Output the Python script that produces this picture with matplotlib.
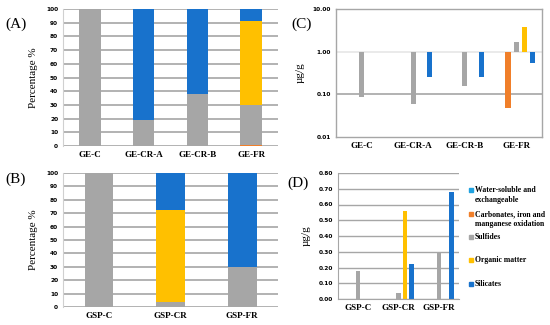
import numpy as np
import matplotlib.pyplot as plt

plt.rcParams['font.family'] = ['Liberation Serif', 'DejaVu Serif']

# fractions (legend order)
fractions = ['Water-soluble and\nexchangeable', 'Carbonates, iron and\nmanganese oxidation',
             'Sulfides', 'Organic matter', 'Silicates']
colors = ['#1FA2E0', '#F07F2A', '#A6A6A6', '#FFC000', '#1872CC']

# (A) percentages, GE samples
ge_samples = ['GE-C', 'GE-CR-A', 'GE-CR-B', 'GE-FR']
ge_pct_water = [0, 0, 0, 0]
ge_pct_carb = [0, 0, 0, 1]
ge_pct_sulf = [100, 19, 38, 29]
ge_pct_org = [0, 0, 0, 61]
ge_pct_sil = [0, 81, 62, 9]

# (B) percentages, GSP samples
gsp_samples = ['GSP-C', 'GSP-CR', 'GSP-FR']
gsp_pct_water = [0, 0, 0]
gsp_pct_carb = [0, 0, 0]
gsp_pct_sulf = [100, 4, 30]
gsp_pct_org = [0, 68.5, 0]
gsp_pct_sil = [0, 27.5, 70]

# (C) concentrations ug/g, log scale (nan = not shown)
nan = np.nan
ge_conc_water = [nan, nan, nan, nan]
ge_conc_carb = [nan, nan, nan, 0.048]
ge_conc_sulf = [0.088, 0.058, 0.16, 1.7]
ge_conc_org = [nan, nan, nan, 3.7]
ge_conc_sil = [nan, 0.25, 0.26, 0.55]

# (D) concentrations ug/g
gsp_conc_water = [0, 0, 0]
gsp_conc_carb = [0, 0, 0]
gsp_conc_sulf = [0.18, 0.035, 0.29]
gsp_conc_org = [0, 0.56, 0]
gsp_conc_sil = [0, 0.22, 0.68]

GRID = '#A6A6A6'
tick_font = dict(family='DejaVu Sans', fontsize=4.2, fontweight='bold')
cat_font = dict(fontsize=6.5, fontweight='bold')


def style_axes(ax):
    for s in ['top', 'right', 'bottom']:
        ax.spines[s].set_visible(False)
    ax.spines['left'].set_color('#D0D0D0')
    ax.spines['left'].set_linewidth(0.8)
    ax.tick_params(axis='both', length=0)
    ax.set_axisbelow(True)


def stacked(ax, samples, parts):
    x = np.arange(len(samples))
    bottom = np.zeros(len(samples))
    for vals, c in zip(parts, colors):
        vals = np.array(vals, dtype=float)
        ax.bar(x, vals, 0.4, bottom=bottom, color=c)
        bottom += vals
    ax.set_xlim(-0.5, len(samples) - 0.5)
    ax.set_ylim(0, 100)
    ax.set_yticks(range(0, 101, 10))
    ax.yaxis.grid(True, color=GRID, linewidth=1.2)
    style_axes(ax)
    ax.set_xticks(x)
    ax.set_xticklabels(samples, **cat_font)
    for t in ax.get_yticklabels():
        t.set(**tick_font)
    ax.set_ylabel('Percentage %', fontsize=8, labelpad=6)


def grouped(ax, samples, parts, width, bottom_val=0):
    x = np.arange(len(samples))
    for i, (vals, c) in enumerate(zip(parts, colors)):
        vals = np.array(vals, dtype=float)
        pos = x + (i - 2) * 0.16
        ax.bar(pos, vals - bottom_val, width, bottom=bottom_val, color=c)
    ax.set_xlim(-0.5, len(samples) - 0.5)
    ax.set_xticks(x)
    ax.set_xticklabels(samples, **cat_font)


def panel_label(txt, x, y):
    fig.text(x / 550, 1 - y / 325, txt, fontsize=11, ha='left', va='center')


fig = plt.figure(figsize=(5.5, 3.25), dpi=100)

# (A)
axA = fig.add_axes([63 / 550, 1 - 146 / 325, 215 / 550, 137 / 325])
stacked(axA, ge_samples, [ge_pct_water, ge_pct_carb, ge_pct_sulf, ge_pct_org, ge_pct_sil])
panel_label('(A)', 5, 24)

# (B)
axB = fig.add_axes([63 / 550, 1 - 307 / 325, 215 / 550, 134 / 325])
stacked(axB, gsp_samples, [gsp_pct_water, gsp_pct_carb, gsp_pct_sulf, gsp_pct_org, gsp_pct_sil])
panel_label('(B)', 5, 179)

# (C)
axC = fig.add_axes([336 / 550, 1 - 137 / 325, 206 / 550, 128 / 325])
grouped(axC, ge_samples, [ge_conc_water, ge_conc_carb, ge_conc_sulf, ge_conc_org, ge_conc_sil], 0.1, 1.0)
axC.set_yscale('log')
axC.set_ylim(0.01, 10)
axC.set_yticks([0.01, 0.1, 1, 10])
axC.set_yticklabels(['0.01', '0.10', '1.00', '10.00'])
axC.minorticks_off()
axC.tick_params(axis='both', length=0)
for s in axC.spines.values():
    s.set_color(GRID)
    s.set_linewidth(1.0)
axC.axhline(0.1, color=GRID, linewidth=1.2, zorder=0)
axC.axhline(1.0, color='#E6E6E6', linewidth=1.2, zorder=0)
for t in axC.get_yticklabels():
    t.set(**tick_font)
axC.set_ylabel('µg/g', fontsize=8, labelpad=6)
panel_label('(C)', 291, 24)

# (D)
axD = fig.add_axes([338 / 550, 1 - 299 / 325, 121 / 550, 126 / 325])
grouped(axD, gsp_samples, [gsp_conc_water, gsp_conc_carb, gsp_conc_sulf, gsp_conc_org, gsp_conc_sil], 0.115)
axD.set_ylim(0, 0.8)
axD.set_yticks(np.arange(0, 0.81, 0.1))
axD.set_yticklabels([f'{v:.2f}' for v in np.arange(0, 0.81, 0.1)])
axD.yaxis.grid(True, color=GRID, linewidth=1.0)
style_axes(axD)
axD.spines['left'].set_color(GRID)
axD.spines['bottom'].set_visible(True)
axD.spines['bottom'].set_color(GRID)
for t in axD.get_yticklabels():
    t.set(**tick_font)
axD.set_ylabel('µg/g', fontsize=8, labelpad=6)
panel_label('(D)', 287, 183)

# legend
leg_y = [190, 214, 237, 260, 284]
for name, c, y in zip(fractions, colors, leg_y):
    fig.patches.append(plt.Rectangle((469 / 550, 1 - (y + 2) / 325), 4 / 550, 4 / 325,
                                     transform=fig.transFigure, color=c))
    lines = name.split('\n')
    fig.text(475 / 550, 1 - y / 325, lines[0], fontsize=5.6, fontweight='bold', va='center')
    if len(lines) > 1:
        fig.text(475 / 550, 1 - (y + 10) / 325, lines[1], fontsize=5.6, fontweight='bold', va='center')

fig.savefig('out.png', dpi=100)
